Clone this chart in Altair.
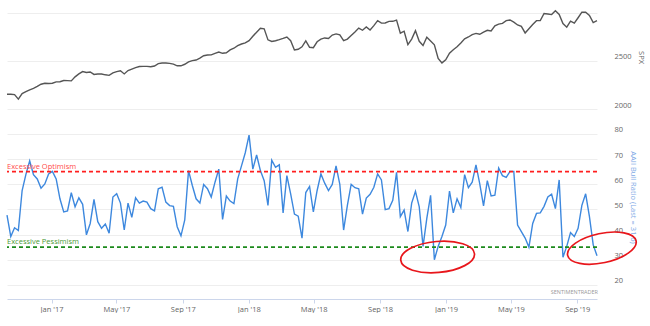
import altair as alt
import pandas as pd

# ---------------- data ----------------
start_date = "2016-10-10"

bull_ratio = [
    47.7, 39.2, 42.7, 41.6, 57.5, 63.9, 69.3, 63.8, 62.1, 58.4,
    60.1, 64.1, 65.1, 62.1, 54.2, 49.0, 49.4, 56.6, 51.0, 54.6,
    52.0, 39.9, 44.4, 54.0, 45.1, 42.5, 44.2, 40.5, 54.9, 56.2,
    52.5, 41.8, 52.5, 46.8, 54.6, 52.5, 53.3, 52.9, 50.3,
    49.4, 58.2, 58.8, 52.9, 51.5, 51.2, 43.1, 39.5, 45.8, 65.4,
    59.5, 54.2, 52.5, 59.9, 58.2, 54.9, 60.8, 66.0, 46.0, 55.3,
    53.3, 52.3, 62.1, 67.3, 72.5, 79.5, 66.0, 71.6, 65.4, 61.4,
    51.6, 69.5, 66.7, 67.7, 48.6, 63.4, 56.2, 48.1, 47.3,
    38.6, 56.7, 59.1, 49.0, 57.5, 64.1, 60.4, 57.5, 59.9, 67.3,
    59.9, 41.8, 51.6, 59.9, 58.6, 58.2, 48.1, 54.5, 56.0, 58.8,
    64.1, 61.7, 49.9, 50.3, 53.6, 64.7, 47.1, 49.7, 41.2, 52.5,
    57.2, 51.0, 35.3, 46.4, 55.6, 30.0, 35.3, 39.2, 43.8,
    57.3, 48.6, 54.2, 50.7, 63.8, 58.6, 60.8, 67.7, 60.1, 51.4,
    61.4, 55.3, 55.6, 66.4, 63.4, 62.7, 65.1, 65.1, 43.8, 41.2,
    38.6, 35.0, 44.4, 48.4, 48.6, 51.2, 54.9, 56.0, 50.3, 61.7,
    31.0, 35.3, 40.8, 39.2, 42.5, 51.6, 56.2, 47.1, 35.9, 31.6,
]

spx = [
    2154, 2154, 2150, 2103, 2160, 2180, 2200, 2214, 2235, 2258,
    2268, 2265, 2268, 2283, 2284, 2296, 2295, 2293, 2335, 2365,
    2390, 2380, 2385, 2360, 2365, 2364, 2356, 2350, 2376, 2389,
    2398, 2365, 2400, 2415, 2430, 2442, 2444, 2444, 2440, 2448,
    2472, 2479, 2479, 2475, 2467, 2450, 2450, 2466, 2490, 2504,
    2510, 2530, 2555, 2562, 2564, 2580, 2593, 2580, 2585, 2615,
    2633, 2660, 2677, 2688, 2712, 2757, 2800, 2840, 2835, 2720,
    2703, 2711, 2722, 2735, 2750, 2712, 2615, 2622, 2648,
    2710, 2643, 2638, 2700, 2727, 2740, 2735, 2770, 2782, 2772,
    2712, 2728, 2765, 2803, 2843, 2820, 2855, 2822, 2868, 2920,
    2894, 2896, 2912, 2913, 2926, 2789, 2810, 2670, 2728, 2815,
    2705, 2662, 2748, 2708, 2668, 2527, 2480, 2513, 2582, 2617,
    2648, 2688, 2730, 2750, 2775, 2787, 2778, 2800, 2820, 2812,
    2866, 2884, 2892, 2920, 2927, 2905, 2875, 2860, 2792, 2836,
    2880, 2920, 2921, 2995, 2989, 2983, 3022, 2984, 2890, 2852,
    2915, 2894, 2950, 3008, 3008, 2975, 2900, 2920,
]

threshold_labels = ["Excessive Optimism", "Excessive Pessimism"]
threshold_levels = [65, 35]
threshold_colors = ["#ff1f1f", "#1c8a1c"]
threshold_text_colors = ["#ff4a4a", "#4a9a36"]

x_tick_months = [(2017, 1), (2017, 5), (2017, 9), (2018, 1), (2018, 5),
                 (2018, 9), (2019, 1), (2019, 5), (2019, 9)]

spx_ticks = [2000, 2500, 3000]
bull_ticks = [20, 30, 40, 50, 60, 70, 80]
last_value = bull_ratio[-1]

# hand-drawn highlight ellipses (centre date, centre value)
ring_dates = ["2018-12-16T12:00:00", "2019-10-16T12:00:00"]
ring_values = [31.1, 34.6]
ring_angles = [355, 348]
ring_sizes = [5476, 4900]

# ---------------- build tables ----------------
dates = pd.date_range(start_date, periods=len(bull_ratio), freq="7D")
date_str = [d.strftime("%Y-%m-%dT12:00:00") for d in dates]
df = pd.DataFrame({"date": date_str, "bull": bull_ratio, "spx": spx})

thr = pd.DataFrame({"label": threshold_labels, "level": threshold_levels,
                    "color": threshold_colors, "tcolor": threshold_text_colors})
rings = pd.DataFrame({"date": ring_dates, "value": ring_values,
                      "angle": ring_angles, "size": ring_sizes})

d0, d1 = dates[0], dates[-1]
x_scale = alt.Scale(
    domain=[alt.DateTime(year=d0.year, month=d0.month, date=d0.day, hours=12),
            alt.DateTime(year=d1.year, month=d1.month, date=d1.day, hours=12)],
    nice=False)

FONT = "Open Sans"
GRID = "#eeeeee"
LABEL = "#666666"
W = 590

# ---------------- upper panel: SPX ----------------
upper = alt.Chart(df).mark_line(color="#555555", strokeWidth=1.4).encode(
    x=alt.X("date:T", scale=x_scale, axis=None),
    y=alt.Y("spx:Q",
            scale=alt.Scale(domain=[2000, 3135], nice=False, zero=False),
            axis=alt.Axis(orient="right", values=spx_ticks,
                          labelExpr="datum.value == 3000 ? '' : datum.label",
                          format="d", title="SPX", titleX=43, titleY=57,
                          titleBaseline="middle", titleColor=LABEL,
                          titleFontWeight="normal", titleFontSize=7.5,
                          titleLimit=400,
                          ticks=False, domain=False, grid=True, gridColor=GRID,
                          labelOverlap=False, labelOffset=-4,
                          labelPadding=17, labelBaseline="middle",
                          labelFontSize=7.5, labelColor=LABEL)),
).properties(width=W, height=109)

# ---------------- lower panel: AAII Bull Ratio ----------------
y_scale = alt.Scale(domain=[14.4, 85.9], nice=False, zero=False)

x_vals = [alt.DateTime(year=y, month=m, date=1) for y, m in x_tick_months]

bull_axis = alt.Axis(orient="right", values=bull_ticks, format="d",
                     title=f"AAII Bull Ratio (Last = {last_value})",
                     titleX=35, titleY=78, titleBaseline="middle",
                     titleColor="#7ea9e6", titleFontWeight="normal",
                     titleFontSize=7.5, titleLimit=400,
                     ticks=False, domain=False, grid=True, gridColor=GRID,
                     labelOverlap=False, labelOffset=-4,
                     labelPadding=17, labelBaseline="middle",
                     labelFontSize=7.5, labelColor=LABEL)

bull_line = alt.Chart(df).mark_line(color="#3d88de", strokeWidth=1.4).encode(
    x=alt.X("date:T", scale=x_scale,
            axis=alt.Axis(values=x_vals, format="%b '%y", title=None,
                          labelFontSize=7.5, labelColor=LABEL, tickSize=4,
                          tickColor="#ccd6eb", domainColor="#ccd6eb",
                          labelOverlap=False,
                          grid=False, labelPadding=2)),
    y=alt.Y("bull:Q", scale=y_scale, axis=bull_axis),
)

rules = alt.Chart(thr).mark_rule(strokeDash=[4, 3], strokeWidth=1.6).encode(
    y=alt.Y("level:Q", scale=y_scale, axis=bull_axis),
    color=alt.Color("color:N", scale=None),
)

texts = alt.Chart(thr).mark_text(align="left", baseline="bottom", dy=-1,
                                 fontSize=7.5, font=FONT).encode(
    x=alt.value(0),
    y=alt.Y("level:Q", scale=y_scale, axis=bull_axis),
    text="label:N",
    color=alt.Color("tcolor:N", scale=None),
)

watermark = alt.Chart(pd.DataFrame({"t": ["SENTIMENTRADER"]})).mark_text(
    align="right", baseline="middle", fontSize=5.5, color="#999999", font=FONT
).encode(x=alt.value(W + 1), y=alt.value(173), text="t:N")

ellipse_path = "M -1 0 A 1 0.42 0 1 0 1 0 A 1 0.42 0 1 0 -1 0 Z"
ring_marks = alt.Chart(rings).mark_point(
    shape=ellipse_path, filled=False, color="#e8161b", strokeWidth=1.7,
    opacity=1
).encode(
    x=alt.X("date:T", scale=x_scale),
    y=alt.Y("value:Q", scale=y_scale, axis=bull_axis),
    angle=alt.Angle("angle:Q", scale=None),
    size=alt.Size("size:Q", scale=None),
)

lower = alt.layer(bull_line, rules, texts, watermark, ring_marks).properties(
    width=W, height=180)

chart = alt.vconcat(upper, lower, spacing=10).properties(
    padding={"left": 4, "top": 0, "right": 2, "bottom": 0}
).configure(font=FONT).configure_view(stroke=None).configure_axis(
    labelOverlap=False)

chart.save("out.html", embed_options={"renderer": "svg", "actions": False})
